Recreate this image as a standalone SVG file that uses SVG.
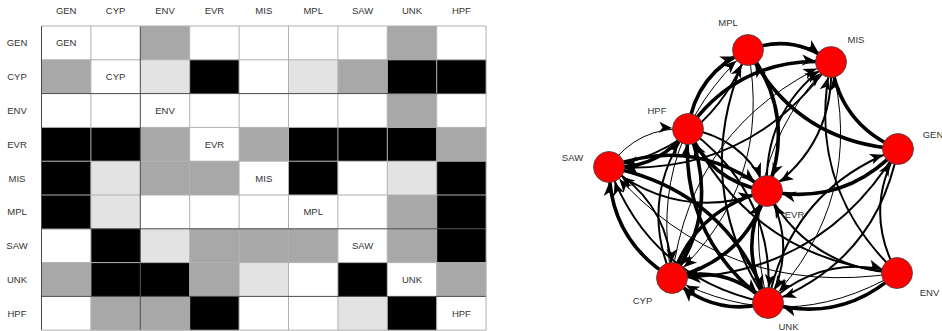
<svg xmlns="http://www.w3.org/2000/svg" width="942" height="331" viewBox="0 0 942 331">
<style>
text{font-family:"Liberation Sans",Arial,sans-serif;font-size:9.5px;fill:#333;text-anchor:middle}
.w{fill:#fff}.l{fill:#e3e3e3}.g{fill:#a8a8a8}.b{fill:#000}
.grid line{stroke:#b0b0b0;stroke-width:1}
.grid line.d{stroke:#4a4a4a}
.e{fill:none;stroke:#000;marker-end:url(#arr)}
.e1{stroke-width:1}.e2{stroke-width:2}.e3{stroke-width:3.6}
.node circle{fill:#ff0000;stroke:#444;stroke-width:0.8}
</style>
<defs>
<marker id="arr" markerUnits="userSpaceOnUse" viewBox="-14 -7 32 14" markerWidth="32" markerHeight="14" refX="16" refY="0" orient="auto" overflow="visible">
<path d="M0,0 L-13,-5.5 L-9.5,0 L-13,5.5 Z" fill="#000"/>
</marker>
</defs>
<rect width="942" height="331" fill="#fff"/>
<g id="matrix">
<g id="cells">
<rect class="w" x="41.5" y="26" width="49.4" height="33.8"/><rect class="w" x="90.9" y="26" width="49.4" height="33.8"/><rect class="g" x="140.3" y="26" width="49.4" height="33.8"/><rect class="w" x="189.7" y="26" width="49.4" height="33.8"/><rect class="w" x="239.1" y="26" width="49.4" height="33.8"/><rect class="w" x="288.5" y="26" width="49.4" height="33.8"/><rect class="w" x="337.9" y="26" width="49.4" height="33.8"/><rect class="g" x="387.3" y="26" width="49.4" height="33.8"/><rect class="w" x="436.7" y="26" width="49.4" height="33.8"/>
<rect class="g" x="41.5" y="59.8" width="49.4" height="33.8"/><rect class="w" x="90.9" y="59.8" width="49.4" height="33.8"/><rect class="l" x="140.3" y="59.8" width="49.4" height="33.8"/><rect class="b" x="189.7" y="59.8" width="49.4" height="33.8"/><rect class="w" x="239.1" y="59.8" width="49.4" height="33.8"/><rect class="l" x="288.5" y="59.8" width="49.4" height="33.8"/><rect class="g" x="337.9" y="59.8" width="49.4" height="33.8"/><rect class="b" x="387.3" y="59.8" width="49.4" height="33.8"/><rect class="b" x="436.7" y="59.8" width="49.4" height="33.8"/>
<rect class="w" x="41.5" y="93.6" width="49.4" height="33.8"/><rect class="w" x="90.9" y="93.6" width="49.4" height="33.8"/><rect class="w" x="140.3" y="93.6" width="49.4" height="33.8"/><rect class="w" x="189.7" y="93.6" width="49.4" height="33.8"/><rect class="w" x="239.1" y="93.6" width="49.4" height="33.8"/><rect class="w" x="288.5" y="93.6" width="49.4" height="33.8"/><rect class="w" x="337.9" y="93.6" width="49.4" height="33.8"/><rect class="g" x="387.3" y="93.6" width="49.4" height="33.8"/><rect class="w" x="436.7" y="93.6" width="49.4" height="33.8"/>
<rect class="b" x="41.5" y="127.4" width="49.4" height="33.8"/><rect class="b" x="90.9" y="127.4" width="49.4" height="33.8"/><rect class="g" x="140.3" y="127.4" width="49.4" height="33.8"/><rect class="w" x="189.7" y="127.4" width="49.4" height="33.8"/><rect class="g" x="239.1" y="127.4" width="49.4" height="33.8"/><rect class="b" x="288.5" y="127.4" width="49.4" height="33.8"/><rect class="b" x="337.9" y="127.4" width="49.4" height="33.8"/><rect class="b" x="387.3" y="127.4" width="49.4" height="33.8"/><rect class="g" x="436.7" y="127.4" width="49.4" height="33.8"/>
<rect class="b" x="41.5" y="161.2" width="49.4" height="33.8"/><rect class="l" x="90.9" y="161.2" width="49.4" height="33.8"/><rect class="g" x="140.3" y="161.2" width="49.4" height="33.8"/><rect class="g" x="189.7" y="161.2" width="49.4" height="33.8"/><rect class="w" x="239.1" y="161.2" width="49.4" height="33.8"/><rect class="b" x="288.5" y="161.2" width="49.4" height="33.8"/><rect class="w" x="337.9" y="161.2" width="49.4" height="33.8"/><rect class="l" x="387.3" y="161.2" width="49.4" height="33.8"/><rect class="b" x="436.7" y="161.2" width="49.4" height="33.8"/>
<rect class="b" x="41.5" y="195" width="49.4" height="33.8"/><rect class="l" x="90.9" y="195" width="49.4" height="33.8"/><rect class="w" x="140.3" y="195" width="49.4" height="33.8"/><rect class="w" x="189.7" y="195" width="49.4" height="33.8"/><rect class="w" x="239.1" y="195" width="49.4" height="33.8"/><rect class="w" x="288.5" y="195" width="49.4" height="33.8"/><rect class="w" x="337.9" y="195" width="49.4" height="33.8"/><rect class="g" x="387.3" y="195" width="49.4" height="33.8"/><rect class="b" x="436.7" y="195" width="49.4" height="33.8"/>
<rect class="w" x="41.5" y="228.8" width="49.4" height="33.8"/><rect class="b" x="90.9" y="228.8" width="49.4" height="33.8"/><rect class="l" x="140.3" y="228.8" width="49.4" height="33.8"/><rect class="g" x="189.7" y="228.8" width="49.4" height="33.8"/><rect class="g" x="239.1" y="228.8" width="49.4" height="33.8"/><rect class="g" x="288.5" y="228.8" width="49.4" height="33.8"/><rect class="w" x="337.9" y="228.8" width="49.4" height="33.8"/><rect class="g" x="387.3" y="228.8" width="49.4" height="33.8"/><rect class="b" x="436.7" y="228.8" width="49.4" height="33.8"/>
<rect class="g" x="41.5" y="262.6" width="49.4" height="33.8"/><rect class="b" x="90.9" y="262.6" width="49.4" height="33.8"/><rect class="b" x="140.3" y="262.6" width="49.4" height="33.8"/><rect class="g" x="189.7" y="262.6" width="49.4" height="33.8"/><rect class="l" x="239.1" y="262.6" width="49.4" height="33.8"/><rect class="w" x="288.5" y="262.6" width="49.4" height="33.8"/><rect class="b" x="337.9" y="262.6" width="49.4" height="33.8"/><rect class="w" x="387.3" y="262.6" width="49.4" height="33.8"/><rect class="g" x="436.7" y="262.6" width="49.4" height="33.8"/>
<rect class="w" x="41.5" y="296.4" width="49.4" height="33.8"/><rect class="g" x="90.9" y="296.4" width="49.4" height="33.8"/><rect class="g" x="140.3" y="296.4" width="49.4" height="33.8"/><rect class="b" x="189.7" y="296.4" width="49.4" height="33.8"/><rect class="w" x="239.1" y="296.4" width="49.4" height="33.8"/><rect class="w" x="288.5" y="296.4" width="49.4" height="33.8"/><rect class="l" x="337.9" y="296.4" width="49.4" height="33.8"/><rect class="b" x="387.3" y="296.4" width="49.4" height="33.8"/><rect class="w" x="436.7" y="296.4" width="49.4" height="33.8"/>
</g>
<g class="grid">
<line x1="90.9" y1="26" x2="90.9" y2="330.2"/><line x1="189.7" y1="26" x2="189.7" y2="330.2"/><line x1="239.1" y1="26" x2="239.1" y2="330.2"/><line x1="288.5" y1="26" x2="288.5" y2="330.2"/><line x1="337.9" y1="26" x2="337.9" y2="330.2"/><line x1="387.3" y1="26" x2="387.3" y2="330.2"/><line x1="436.7" y1="26" x2="436.7" y2="330.2"/>
<line x1="41.5" y1="59.8" x2="486.1" y2="59.8"/><line x1="41.5" y1="127.4" x2="486.1" y2="127.4"/><line x1="41.5" y1="161.2" x2="486.1" y2="161.2"/><line x1="41.5" y1="195" x2="486.1" y2="195"/><line x1="41.5" y1="262.6" x2="486.1" y2="262.6"/>
<line class="d" x1="140.3" y1="26" x2="140.3" y2="330.2"/>
<line class="d" x1="41.5" y1="93.6" x2="486.1" y2="93.6"/><line class="d" x1="41.5" y1="228.8" x2="486.1" y2="228.8"/><line class="d" x1="41.5" y1="296.4" x2="486.1" y2="296.4"/>
<line class="d" x1="41.5" y1="26" x2="41.5" y2="330.2"/><line x1="41.5" y1="26" x2="486.1" y2="26"/><line x1="486.1" y1="26" x2="486.1" y2="330.2"/><line x1="41.5" y1="330.2" x2="486.1" y2="330.2"/>
</g>
<g id="col-labels">
<text x="66.2" y="14">GEN</text><text x="115.6" y="14">CYP</text><text x="165" y="14">ENV</text><text x="214.4" y="14">EVR</text><text x="263.8" y="14">MIS</text><text x="313.2" y="14">MPL</text><text x="362.6" y="14">SAW</text><text x="412" y="14">UNK</text><text x="461.4" y="14">HPF</text>
</g>
<g id="row-labels">
<text x="17" y="46.3">GEN</text><text x="17" y="80.1">CYP</text><text x="17" y="113.9">ENV</text><text x="17" y="147.7">EVR</text><text x="17" y="181.5">MIS</text><text x="17" y="215.3">MPL</text><text x="17" y="249.1">SAW</text><text x="17" y="282.9">UNK</text><text x="17" y="316.7">HPF</text>
</g>
<g id="diag-labels">
<text x="66.2" y="46.3">GEN</text><text x="115.6" y="80.1">CYP</text><text x="165" y="113.9">ENV</text><text x="214.4" y="147.7">EVR</text><text x="263.8" y="181.5">MIS</text><text x="313.2" y="215.3">MPL</text><text x="362.6" y="249.1">SAW</text><text x="412" y="282.9">UNK</text><text x="461.4" y="316.7">HPF</text>
</g>
</g>
<g id="edges">
<path class="e e2" d="M897,273 Q862.8,210.7 898,149"/>
<path class="e e2" d="M768,303 Q789.9,189.6 898,149"/>
<path class="e e2" d="M898,149 Q821.1,276.8 672,278"/>
<path class="e e1" d="M897,273 Q785.9,338.5 672,278"/>
<path class="e e3" d="M767,191 Q743.9,261.1 672,278"/>
<path class="e e1" d="M748,50 Q773.8,185.3 672,278"/>
<path class="e e2" d="M609,167 Q671.6,204.9 672,278"/>
<path class="e e3" d="M768,303 Q713,317.4 672,278"/>
<path class="e e3" d="M688,129 Q721.7,208 672,278"/>
<path class="e e2" d="M768,303 Q824.1,251.9 897,273"/>
<path class="e e3" d="M898,149 Q844.3,206.7 767,191"/>
<path class="e e3" d="M672,278 Q695.1,207.9 767,191"/>
<path class="e e2" d="M897,273 Q809,268.4 767,191"/>
<path class="e e2" d="M831,62 Q835.1,144.4 767,191"/>
<path class="e e3" d="M748,50 Q797,115.2 767,191"/>
<path class="e e3" d="M609,167 Q694.7,134.8 767,191"/>
<path class="e e3" d="M768,303 Q736.1,247.3 767,191"/>
<path class="e e2" d="M688,129 Q744.9,137.9 767,191"/>
<path class="e e3" d="M898,149 Q840.1,124.3 831,62"/>
<path class="e e1" d="M672,278 Q691,125.5 831,62"/>
<path class="e e2" d="M897,273 Q804.9,186 831,62"/>
<path class="e e2" d="M767,191 Q762.9,108.6 831,62"/>
<path class="e e3" d="M748,50 Q792.9,32.8 831,62"/>
<path class="e e1" d="M768,303 Q732,164.9 831,62"/>
<path class="e e3" d="M688,129 Q740.7,55.5 831,62"/>
<path class="e e3" d="M898,149 Q795.3,141.5 748,50"/>
<path class="e e1" d="M672,278 Q646.2,142.7 748,50"/>
<path class="e e2" d="M768,303 Q687.2,182.1 748,50"/>
<path class="e e3" d="M688,129 Q695.9,72.7 748,50"/>
<path class="e e3" d="M672,278 Q609.4,240.1 609,167"/>
<path class="e e1" d="M897,273 Q723.3,300.6 609,167"/>
<path class="e e2" d="M767,191 Q681.3,223.2 609,167"/>
<path class="e e2" d="M831,62 Q749.4,176.7 609,167"/>
<path class="e e2" d="M748,50 Q711.3,147.4 609,167"/>
<path class="e e2" d="M768,303 Q650.4,279.5 609,167"/>
<path class="e e3" d="M688,129 Q659.1,170.1 609,167"/>
<path class="e e2" d="M898,149 Q876.1,262.4 768,303"/>
<path class="e e3" d="M672,278 Q727,263.6 768,303"/>
<path class="e e3" d="M897,273 Q840.9,324.1 768,303"/>
<path class="e e2" d="M767,191 Q798.9,246.7 768,303"/>
<path class="e e1" d="M831,62 Q867,200.1 768,303"/>
<path class="e e3" d="M609,167 Q726.6,190.5 768,303"/>
<path class="e e2" d="M688,129 Q776.7,193.6 768,303"/>
<path class="e e2" d="M672,278 Q638.3,199 688,129"/>
<path class="e e2" d="M897,273 Q752.2,259.5 688,129"/>
<path class="e e3" d="M767,191 Q710.1,182.1 688,129"/>
<path class="e e1" d="M609,167 Q637.9,125.9 688,129"/>
<path class="e e3" d="M768,303 Q679.3,238.4 688,129"/>
</g>
<g id="node-GEN" class="node"><circle cx="898" cy="149" r="15.5"/><text x="933" y="137.5">GEN</text></g>
<g id="node-CYP" class="node"><circle cx="672" cy="278" r="15.5"/><text x="642.5" y="303.5">CYP</text></g>
<g id="node-ENV" class="node"><circle cx="897" cy="273" r="15.5"/><text x="929.5" y="295.5">ENV</text></g>
<g id="node-EVR" class="node"><circle cx="767" cy="191" r="15.5"/><text x="794.5" y="218">EVR</text></g>
<g id="node-MIS" class="node"><circle cx="831" cy="62" r="15.5"/><text x="856" y="42.5">MIS</text></g>
<g id="node-MPL" class="node"><circle cx="748" cy="50" r="15.5"/><text x="728" y="25.5">MPL</text></g>
<g id="node-SAW" class="node"><circle cx="609" cy="167" r="15.5"/><text x="572.5" y="160.5">SAW</text></g>
<g id="node-UNK" class="node"><circle cx="768" cy="303" r="15.5"/><text x="788.5" y="330">UNK</text></g>
<g id="node-HPF" class="node"><circle cx="688" cy="129" r="15.5"/><text x="657" y="113.5">HPF</text></g>
</svg>
